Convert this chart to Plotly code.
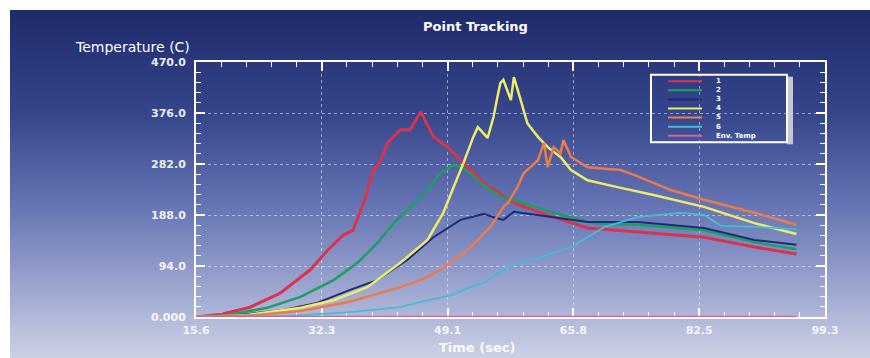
import base64
import plotly.graph_objects as go

# ---------------- data ----------------
x_tick_vals = [15.6, 32.34, 49.08, 65.82, 82.56, 99.3]
x_tick_text = ["15.6", "32.3", "49.1", "65.8", "82.5", "99.3"]
y_tick_vals = [0, 94, 188, 282, 376, 470]
y_tick_text = ["0.000", "94.0", "188.0", "282.0", "376.0", "470.0"]

names = ["1", "2", "3", "4", "5", "6", "Env. Temp"]

t1 = [15.6, 19, 22.8, 26.8, 30.8, 33.1, 35.2, 36.5, 37.9, 39.2, 40.1, 41.1, 42.8, 44.1, 45.5, 47.2, 49.1, 51.2, 53.9, 57.9, 63.2, 67.7, 74.4, 83.2, 89.9, 95.5]
v1 = [0, 5, 18, 44, 87, 123, 151, 160, 210, 271, 286, 321, 345, 345, 378, 332, 313, 284, 247, 210, 184, 164, 157, 147, 129, 116]

t2 = [15.6, 20, 25.1, 29.5, 33.9, 37.1, 39.7, 41.9, 44.1, 46.4, 48.1, 49.9, 51.2, 53.5, 56.1, 57.9, 63.2, 68.5, 74.4, 83.2, 89.9, 95.5]
v2 = [0, 4, 17, 37, 68, 100, 136, 173, 203, 234, 265, 280, 275, 247, 221, 216, 192, 173, 170, 160, 138, 125]

t3 = [15.6, 21, 27.2, 31.7, 36.1, 39.7, 43.7, 47.2, 50.8, 53.9, 55.2, 56.5, 57.9, 63.2, 67.7, 74.4, 83.2, 89.9, 95.5]
v3 = [0, 3, 13, 26, 50, 68, 105, 147, 179, 190, 184, 179, 194, 184, 175, 175, 164, 142, 133]

t4 = [15.6, 22, 29.5, 33.9, 38.4, 42.8, 46.4, 48.5, 49.9, 51.2, 52.5, 53.1, 54.4, 55.2, 55.7, 56.1, 56.5, 57.1, 57.5, 57.9, 58.4, 58.8, 59.7, 61.1, 62.4, 64.1, 65.5, 67.7, 72.1, 76.5, 83.2, 89.9, 95.5]
v4 = [0, 3, 17, 31, 55, 100, 142, 192, 240, 284, 332, 350, 330, 369, 405, 431, 437, 413, 400, 442, 420, 400, 357, 332, 313, 295, 271, 252, 238, 225, 203, 173, 153]

t5 = [15.6, 23, 29.5, 36.1, 42.8, 45.5, 48.1, 51.7, 54.8, 56.5, 57.1, 58.4, 59.2, 61.1, 61.9, 62.4, 63.2, 64.1, 64.5, 65.5, 67.7, 72.1, 73.9, 78.8, 83.2, 89.9, 95.5]
v5 = [0, 3, 11, 28, 55, 68, 87, 123, 166, 203, 210, 240, 265, 289, 321, 276, 313, 302, 326, 295, 276, 271, 262, 234, 216, 192, 170]

t6 = [15.6, 28, 36.1, 42.8, 45.5, 49.5, 52.1, 53.9, 56.5, 58.4, 61.1, 65.5, 70.0, 74.4, 80.1, 83.2, 85.5, 89.9, 95.5]
v6 = [0, 2, 9, 18, 28, 40, 55, 63, 87, 100, 108, 129, 166, 184, 192, 188, 168, 166, 162]

t_env = [15.6, 95.5]
v_env = [0, 0]

series_t = [t1, t2, t3, t4, t5, t6, t_env]
series_v = [v1, v2, v3, v4, v5, v6, v_env]
colors = ["#d8344e", "#1e9e62", "#1b2c78", "#eceb6a", "#ea7b4d", "#44bcd6", "#d65f9e"]
widths = [3, 2.5, 2, 2.5, 2.5, 1.8, 2.5]

# ---------------- geometry helpers (pixel -> paper) ----------------
W, H = 870, 358
L, R, T, B = 196, 825, 62, 317
pw, ph = R - L, B - T


def px(x):
    return (x - L) / pw


def py(y):
    return (B - y) / ph


FONT = "DejaVu Sans, Liberation Sans, sans-serif"

fig = go.Figure()
for i in range(len(names)):
    fig.add_trace(go.Scatter(
        x=series_t[i], y=series_v[i], mode="lines", name=names[i],
        line=dict(color=colors[i], width=widths[i]),
        showlegend=False,
    ))

# gradient background via svg image
svg = ('<svg xmlns="http://www.w3.org/2000/svg" width="100" height="100" preserveAspectRatio="none">'
       '<defs><linearGradient id="g" x1="0" y1="0" x2="0" y2="1">'
       '<stop offset="0" stop-color="#1f2a6a"/>'
       '<stop offset="0.3" stop-color="#36468c"/>'
       '<stop offset="0.55" stop-color="#6272b2"/>'
       '<stop offset="0.8" stop-color="#9da6d0"/>'
       '<stop offset="1" stop-color="#cdd1e5"/>'
       '</linearGradient></defs><rect width="100" height="100" fill="url(#g)"/></svg>')
src = "data:image/svg+xml;base64," + base64.b64encode(svg.encode()).decode()
fig.add_layout_image(dict(source=src, xref="paper", yref="paper",
                          x=px(10), y=py(10), sizex=(870 - 10) / pw, sizey=(358 - 10) / ph,
                          sizing="stretch", layer="below", xanchor="left", yanchor="top"))

axis_common = dict(
    showline=True, linecolor="white", linewidth=2, mirror="allticks",
    ticks="inside", ticklen=9, tickwidth=2, tickcolor="white",
    showgrid=True, gridcolor="rgba(235,235,255,0.55)", gridwidth=1, griddash="3px,3px",
    zeroline=False, layer="below traces", automargin=False,
)

fig.update_xaxes(
    range=[15.6, 99.3], tickmode="array", tickvals=x_tick_vals, ticktext=x_tick_text,
    minor=dict(tickmode="linear", tick0=15.6, dtick=3.348, ticks="inside", ticklen=5,
               tickwidth=1, tickcolor="white", showgrid=False),
    tickfont=dict(family=FONT, size=11, color="rgba(255,255,255,0.9)", weight="bold"),
    ticklabelstandoff=2,
    **axis_common,
)
fig.update_yaxes(
    range=[0, 470], tickmode="array", tickvals=y_tick_vals, ticktext=y_tick_text,
    minor=dict(tickmode="linear", tick0=0, dtick=18.8, ticks="inside", ticklen=5,
               tickwidth=1, tickcolor="white", showgrid=False),
    tickfont=dict(family=FONT, size=11, color="rgba(255,255,255,0.92)", weight="bold"),
    ticklabelstandoff=6,
    **axis_common,
)

# titles
fig.add_annotation(text="Point Tracking", xref="paper", yref="paper", x=px(475), y=py(26),
                   xanchor="center", yanchor="middle",
                   showarrow=False, font=dict(family=FONT, size=13, color="white", weight="bold"))
fig.add_annotation(text="Temperature (C)", xref="paper", yref="paper", x=px(132), y=py(47),
                   xanchor="center", yanchor="middle",
                   showarrow=False, font=dict(family=FONT, size=14, color="white"))
fig.add_annotation(text="Time (sec)", xref="paper", yref="paper", x=px(477), y=py(347),
                   xanchor="center", yanchor="middle", borderpad=0,
                   showarrow=False, font=dict(family=FONT, size=13, color="rgba(255,255,255,0.95)", weight="bold"))

# legend box (manual)
leg_font = 7
line_h = leg_font * 1.3
n = len(names)
center_y = 108.5
shapes = []
top = center_y - (n / 2) * line_h - 2
bot = center_y + (n / 2) * line_h + 2
shapes.append(dict(type="rect", xref="paper", yref="paper", x0=px(787), x1=px(793), y0=py(top + 2), y1=py(bot + 2),
                   fillcolor="#c4c6d4", line=dict(width=0), layer="above"))
shapes.append(dict(type="rect", xref="paper", yref="paper", x0=px(651), x1=px(787), y0=py(top), y1=py(bot),
                   fillcolor="rgba(0,0,0,0)", line=dict(color="white", width=2), layer="above"))
for i in range(n):
    yy = center_y + (i - (n - 1) / 2) * line_h
    shapes.append(dict(type="line", xref="paper", yref="paper", x0=px(668), x1=px(702), y0=py(yy), y1=py(yy),
                       line=dict(color=colors[i], width=2), layer="above"))
fig.add_annotation(text="<br>".join(names), xref="paper", yref="paper", x=px(715), y=py(center_y),
                   xanchor="left", yanchor="middle", align="left", borderpad=0,
                   showarrow=False, font=dict(family=FONT, size=leg_font, color="white", weight="bold"))
fig.update_layout(shapes=shapes)

fig.update_layout(
    width=W, height=H,
    margin=dict(l=L, r=W - R, t=T, b=H - B),
    paper_bgcolor="white", plot_bgcolor="rgba(0,0,0,0)",
    showlegend=False,
)

fig.write_html("out.html")
